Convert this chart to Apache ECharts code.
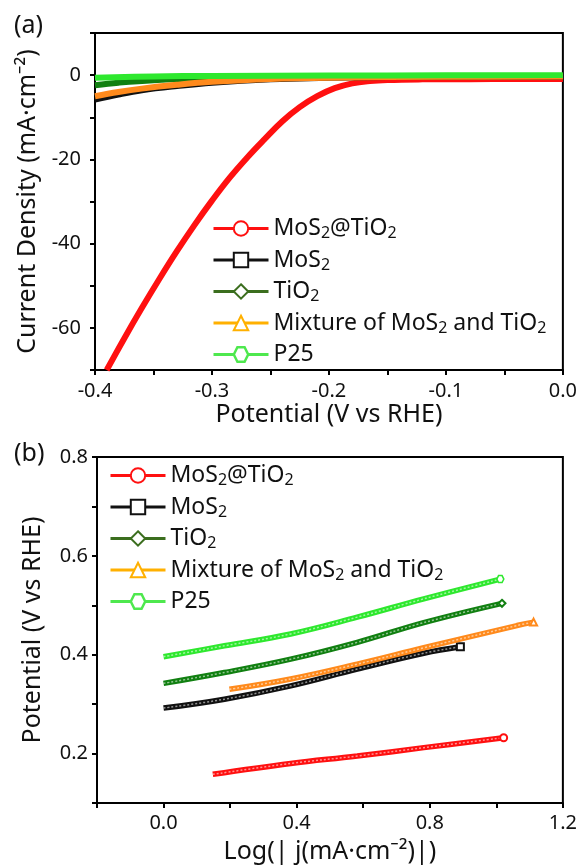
<!DOCTYPE html>
<html>
<head>
<meta charset="utf-8">
<script src="https://cdn.jsdelivr.net/npm/echarts@6/dist/echarts.min.js"></script>
<style>
  html, body { margin: 0; padding: 0; background: #fff; }
  #main { width: 580px; height: 868px; }
</style>
</head>
<body>
<div id="main"></div>
<script>
// series names / legend text
var names = ['MoS2@TiO2', 'MoS2', 'TiO2', 'Mixture of MoS2 and TiO2', 'P25'];
var legendText = {
    'MoS2@TiO2': 'MoS{s|2}@TiO{s|2}',
    'MoS2': 'MoS{s|2}',
    'TiO2': 'TiO{s|2}',
    'Mixture of MoS2 and TiO2': 'Mixture of MoS{s|2} and TiO{s|2}',
    'P25': 'P25{s| }'
};
var lineColors = ['#ff1010', '#111111', '#118011', '#ff8a1c', '#2ee82e'];
var legendColors = ['#ff1010', '#111111', '#3b6e1e', '#ffb000', '#4ee84e'];
var hexagon = 'path://M-1,0 L-0.5,-0.87 L0.5,-0.87 L1,0 L0.5,0.87 L-0.5,0.87 Z';
var symbols = ['emptyCircle', 'emptyRect', 'emptyDiamond', 'emptyTriangle', hexagon];

// (a) polarization curves: potential (V vs RHE) / current density (mA/cm2)
var aRedX = [-0.390, -0.375, -0.360, -0.345, -0.330, -0.315, -0.300, -0.285, -0.270, -0.255, -0.240, -0.225, -0.210, -0.195, -0.180, -0.165, -0.150, -0.12, -0.08, -0.04, 0];
var aRedY = [-70.0, -62.5, -55.3, -48.4, -41.8, -35.6, -29.8, -24.4, -19.6, -15.2, -11.0, -7.6, -5.0, -3.1, -1.95, -1.4, -1.15, -1.0, -0.95, -0.9, -0.9];
var aBlackX = [-0.4, -0.38, -0.36, -0.33, -0.3, -0.25, -0.2, -0.1, 0];
var aBlackY = [-5.8, -4.6, -3.6, -2.6, -1.8, -1.0, -0.6, -0.4, -0.3];
var aTiX = [-0.4, -0.38, -0.35, -0.3, -0.25, -0.2, -0.1, 0];
var aTiY = [-2.4, -1.8, -1.2, -0.7, -0.45, -0.3, -0.25, -0.2];
var aMixX = [-0.4, -0.38, -0.36, -0.33, -0.3, -0.25, -0.2, -0.1, 0];
var aMixY = [-5.0, -4.0, -3.2, -2.3, -1.6, -0.9, -0.6, -0.4, -0.3];
var aP25X = [-0.4, -0.35, -0.3, -0.2, -0.1, 0];
var aP25Y = [-0.6, -0.3, -0.2, -0.1, -0.05, 0];

// (b) Tafel plots: log|j| / potential
var bRedX = [0.148, 0.382, 0.582, 0.782, 1.022];
var bRedY = [0.158, 0.180, 0.195, 0.212, 0.232];
var bBlackX = [0.0, 0.183, 0.382, 0.582, 0.782, 0.892];
var bBlackY = [0.292, 0.310, 0.337, 0.371, 0.403, 0.416];
var bTiX = [0.0, 0.183, 0.382, 0.582, 0.782, 1.017];
var bTiY = [0.342, 0.364, 0.391, 0.425, 0.465, 0.504];
var bMixX = [0.198, 0.382, 0.582, 0.782, 1.062, 1.112];
var bMixY = [0.330, 0.351, 0.381, 0.414, 0.459, 0.466];
var bP25X = [0.0, 0.183, 0.382, 0.582, 0.782, 1.012];
var bP25Y = [0.396, 0.418, 0.442, 0.476, 0.513, 0.553];

var aData = [[aRedX, aRedY], [aBlackX, aBlackY], [aTiX, aTiY], [aMixX, aMixY], [aP25X, aP25Y]];
var bData = [[bRedX, bRedY], [bBlackX, bBlackY], [bTiX, bTiY], [bMixX, bMixY], [bP25X, bP25Y]];

function zip(xs, ys) {
    return xs.map(function (x, i) { return [x, ys[i]]; });
}

var font = 'Noto Sans';
var chart = echarts.init(document.getElementById('main'));

function axisCommon() {
    return {
        axisLine: {onZero: false, lineStyle: {color: '#000', width: 2}},
        axisTick: {inside: false, length: 5, lineStyle: {color: '#000', width: 2}},
        splitLine: {show: false},
        axisLabel: {color: '#111', fontSize: 20, fontFamily: font},
        nameLocation: 'middle',
        nameTextStyle: {color: '#111', fontSize: 25, fontFamily: font}
    };
}

var xA = Object.assign(axisCommon(), {
    type: 'value', gridIndex: 0, min: -0.4, max: 0, interval: 0.05,
    name: 'Potential (V vs RHE)', nameGap: 29
});
xA.axisLabel.margin = 11;
xA.axisLabel.formatter = function (v) {
    return Math.round(v * 100) % 10 === 0 ? v.toFixed(1) : '';
};
var yA = Object.assign(axisCommon(), {
    type: 'value', gridIndex: 0, min: -70, max: 10, interval: 10,
    name: 'Current Density (mA·cm⁻²)', nameGap: 50
});
yA.axisLabel.margin = 14;
yA.axisLabel.formatter = function (v) { return v % 20 === 0 ? String(v) : ''; };

var xB = Object.assign(axisCommon(), {
    type: 'value', gridIndex: 1, min: -0.2, max: 1.2, interval: 0.2,
    name: 'Log(| j(mA·cm⁻²)|)', nameGap: 36
});
xB.axisLabel.margin = 10;
xB.axisLabel.formatter = function (v) {
    return Math.round(v * 10) % 4 === 0 ? v.toFixed(1) : '';
};
var yB = Object.assign(axisCommon(), {
    type: 'value', gridIndex: 1, min: 0.1, max: 0.8, interval: 0.1,
    name: 'Potential (V vs RHE)', nameGap: 52
});
yB.axisLabel.margin = 9;
yB.axisLabel.formatter = function (v) {
    return Math.round(v * 10) % 2 === 0 ? v.toFixed(1) : '';
};

var series = [];
function addSeries(data, axisIdx, width, endMark) {
    data.forEach(function (d, i) {
        var pts = zip(d[0], d[1]);
        series.push({
            name: names[i],
            type: 'line',
            xAxisIndex: axisIdx,
            yAxisIndex: axisIdx,
            data: pts,
            smooth: 0.4,
            symbol: symbols[i],
            showSymbol: endMark,
            symbolSize: function (v, p) { return p.dataIndex === pts.length - 1 ? 7 : 0; },
            itemStyle: {color: i === 4 ? '#fff' : lineColors[i], borderColor: lineColors[i], borderWidth: 1.5},
            lineStyle: {color: lineColors[i], width: width},
            z: 2 + i,
            animation: false
        });
        if (endMark) {
            // light dotted core: the curves are drawn from dense hollow markers
            series.push({
                type: 'line',
                xAxisIndex: axisIdx,
                yAxisIndex: axisIdx,
                data: pts,
                smooth: 0.4,
                symbol: 'none',
                silent: true,
                lineStyle: {color: 'rgba(255,255,255,0.55)', width: 1.5, type: [2, 2]},
                z: 2 + i,
                animation: false
            });
        }
    });
}
addSeries(aData, 0, 6, false);
addSeries(bData, 1, 5.5, true);

function legendData() {
    return names.map(function (n, i) {
        return {
            name: n,
            itemStyle: {color: i === 4 ? '#fff' : legendColors[i], borderColor: legendColors[i], borderWidth: 2.5},
            lineStyle: {color: legendColors[i], width: 3}
        };
    });
}
function legendOpt(left, top) {
    return {
        orient: 'vertical', left: left, top: top,
        itemWidth: 55, itemHeight: 18, itemGap: 7,
        data: legendData(),
        selectedMode: false,
        formatter: function (n) { return legendText[n]; },
        textStyle: {
            color: '#111', fontSize: 23, fontFamily: font,
            rich: {s: {fontSize: 16, fontFamily: font, color: '#111', padding: [10, 0, 0, 0]}}
        }
    };
}

chart.setOption({
    backgroundColor: '#fff',
    animation: false,
    title: [
        {text: '(a)', left: 14, top: 13, padding: 0, textStyle: {fontSize: 25, fontWeight: 'normal', color: '#111', fontFamily: font}},
        {text: '(b)', left: 14, top: 441, padding: 0, textStyle: {fontSize: 25, fontWeight: 'normal', color: '#111', fontFamily: font}}
    ],
    grid: [
        {left: 95, top: 33, right: 13, height: 337, show: true, borderColor: '#000', borderWidth: 2},
        {left: 97, top: 457, right: 11, height: 346, show: true, borderColor: '#000', borderWidth: 2}
    ],
    xAxis: [xA, xB],
    yAxis: [yA, yB],
    legend: [legendOpt(207, 212), legendOpt(104, 459)],
    series: series
});
</script>
</body>
</html>
